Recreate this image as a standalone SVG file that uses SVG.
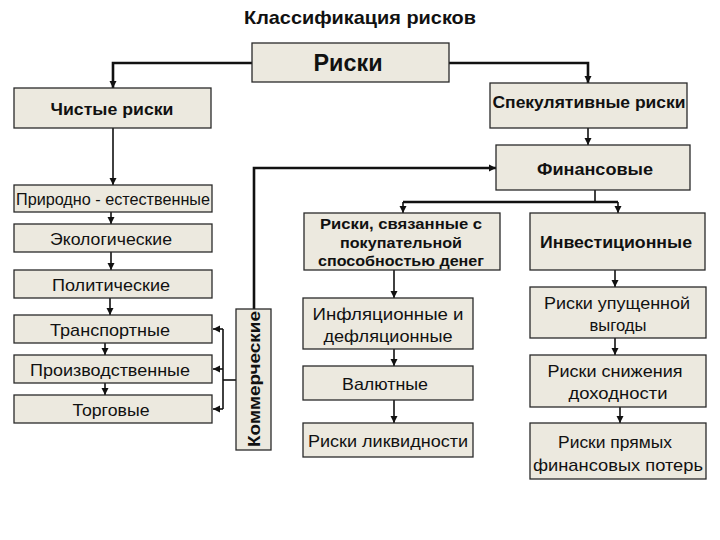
<svg xmlns="http://www.w3.org/2000/svg" width="720" height="540" viewBox="0 0 720 540">
<style>
.box{fill:#ece9df;stroke:#2a2a2a;stroke-width:1.3}
.t{font-family:"Liberation Sans",Arial,sans-serif;fill:#111;text-anchor:middle}
.b{font-weight:bold}
.c{fill:none;stroke:#111}
.thick{stroke-width:2.6}
.thin{stroke-width:1.6}
</style>
<defs>
<marker id="ah" markerUnits="userSpaceOnUse" markerWidth="8" markerHeight="8" refX="7" refY="4" orient="auto">
<path d="M0,0.5 L7,4 L0,7.5 z" fill="#111"/>
</marker>
</defs>
<rect width="720" height="540" fill="#fff"/>
<text class="t b" x="360" y="24" font-size="19" textLength="232" lengthAdjust="spacingAndGlyphs">Классификация рисков</text>

<g id="connectors">
<path class="c thick" d="M252,63 H113 V88" marker-end="url(#ah)"/>
<path class="c thick" d="M449,63 H588 V83" marker-end="url(#ah)"/>
<path class="c thin" d="M588,128 V145" marker-end="url(#ah)"/>
<path class="c thin" d="M113,128 V185" marker-end="url(#ah)"/>
<path class="c thin" d="M111,212 V224" marker-end="url(#ah)"/>
<path class="c thin" d="M111,252 V270" marker-end="url(#ah)"/>
<path class="c thin" d="M110,298 V315" marker-end="url(#ah)"/>
<path class="c thin" d="M105,343 V355" marker-end="url(#ah)"/>
<path class="c thin" d="M105,383 V395" marker-end="url(#ah)"/>
<path class="c thick" d="M254,309 V168 H496" marker-end="url(#ah)"/>
<path class="c thin" d="M236,380 H223"/>
<path class="c thin" d="M223,329 V409"/>
<path class="c thin" d="M223,329 H213" marker-end="url(#ah)"/>
<path class="c thin" d="M223,369 H213" marker-end="url(#ah)"/>
<path class="c thin" d="M223,409 H213" marker-end="url(#ah)"/>
<path class="c thin" d="M595,190 V202"/>
<path class="c thick" d="M403,202 H618"/>
<path class="c thin" d="M403,202 V213" marker-end="url(#ah)"/>
<path class="c thin" d="M618,202 V213" marker-end="url(#ah)"/>
<path class="c thin" d="M394,270 V298" marker-end="url(#ah)"/>
<path class="c thin" d="M394,349 V366" marker-end="url(#ah)"/>
<path class="c thin" d="M394,400 V423" marker-end="url(#ah)"/>
<path class="c thin" d="M615,270 V287" marker-end="url(#ah)"/>
<path class="c thin" d="M615,338 V355" marker-end="url(#ah)"/>
<path class="c thin" d="M620,407 V423" marker-end="url(#ah)"/>
</g>

<g id="riski"><rect class="box" x="252" y="43" width="197" height="39"/><text class="t b" x="348" y="71" font-size="23" textLength="69" lengthAdjust="spacingAndGlyphs">Риски</text></g>
<g id="chistye"><rect class="box" x="14" y="88" width="197" height="40"/><text class="t b" x="112" y="115" font-size="17" textLength="123" lengthAdjust="spacingAndGlyphs">Чистые риски</text></g>
<g id="spekul"><rect class="box" x="490" y="83" width="197" height="45"/><text class="t b" x="589" y="108" font-size="17" textLength="193" lengthAdjust="spacingAndGlyphs">Спекулятивные риски</text></g>
<g id="finans"><rect class="box" x="496" y="145" width="194" height="45"/><text class="t b" x="595" y="175" font-size="16" textLength="116" lengthAdjust="spacingAndGlyphs">Финансовые</text></g>

<g id="prirodno"><rect class="box" x="14" y="185" width="198" height="27"/><text class="t" x="113" y="205" font-size="16" textLength="194" lengthAdjust="spacingAndGlyphs">Природно - естественные</text></g>
<g id="ekolog"><rect class="box" x="14" y="224" width="198" height="28"/><text class="t" x="111" y="245" font-size="17" textLength="122" lengthAdjust="spacingAndGlyphs">Экологические</text></g>
<g id="polit"><rect class="box" x="14" y="270" width="198" height="28"/><text class="t" x="111" y="291" font-size="17" textLength="118" lengthAdjust="spacingAndGlyphs">Политические</text></g>
<g id="transp"><rect class="box" x="14" y="315" width="198" height="28"/><text class="t" x="110" y="336" font-size="17" textLength="120" lengthAdjust="spacingAndGlyphs">Транспортные</text></g>
<g id="proizv"><rect class="box" x="14" y="355" width="198" height="28"/><text class="t" x="110" y="376" font-size="17" textLength="160" lengthAdjust="spacingAndGlyphs">Производственные</text></g>
<g id="torg"><rect class="box" x="14" y="395" width="198" height="28"/><text class="t" x="111" y="416" font-size="17" textLength="77" lengthAdjust="spacingAndGlyphs">Торговые</text></g>
<g id="kommer"><rect class="box" x="236" y="309" width="35" height="141"/><text class="t b" transform="translate(260,379) rotate(-90)" x="0" y="0" font-size="16" textLength="136" lengthAdjust="spacingAndGlyphs">Коммерческие</text></g>

<g id="pokup"><rect class="box" x="304" y="213" width="196" height="57"/>
<text class="t b" font-size="14"><tspan x="401" y="229" textLength="162" lengthAdjust="spacingAndGlyphs">Риски, связанные  с</tspan><tspan x="401" y="248" textLength="122" lengthAdjust="spacingAndGlyphs">покупательной</tspan><tspan x="401" y="266" textLength="166" lengthAdjust="spacingAndGlyphs">способностью денег</tspan></text></g>
<g id="infl"><rect class="box" x="303" y="298" width="170" height="51"/>
<text class="t" font-size="17"><tspan x="388" y="320" textLength="151" lengthAdjust="spacingAndGlyphs">Инфляционные и</tspan><tspan x="388" y="342" textLength="129" lengthAdjust="spacingAndGlyphs">дефляционные</tspan></text></g>
<g id="valut"><rect class="box" x="303" y="366" width="170" height="34"/><text class="t" x="385" y="390" font-size="17" textLength="86" lengthAdjust="spacingAndGlyphs">Валютные</text></g>
<g id="likv"><rect class="box" x="303" y="423" width="170" height="34"/><text class="t" x="388" y="447" font-size="17" textLength="160" lengthAdjust="spacingAndGlyphs">Риски ликвидности</text></g>

<g id="invest"><rect class="box" x="530" y="213" width="175" height="57"/><text class="t b" x="616" y="248" font-size="16" textLength="152" lengthAdjust="spacingAndGlyphs">Инвестиционные</text></g>
<g id="upusch"><rect class="box" x="530" y="287" width="176" height="51"/>
<text class="t" font-size="17"><tspan x="617" y="309" textLength="146" lengthAdjust="spacingAndGlyphs">Риски упущенной</tspan><tspan x="618" y="331" textLength="57" lengthAdjust="spacingAndGlyphs">выгоды</tspan></text></g>
<g id="snizh"><rect class="box" x="530" y="355" width="176" height="52"/>
<text class="t" font-size="17"><tspan x="615" y="377" textLength="135" lengthAdjust="spacingAndGlyphs">Риски снижения</tspan><tspan x="618" y="399" textLength="99" lengthAdjust="spacingAndGlyphs">доходности</tspan></text></g>
<g id="pryam"><rect class="box" x="530" y="423" width="176" height="56"/>
<text class="t" font-size="17"><tspan x="615" y="448" textLength="114" lengthAdjust="spacingAndGlyphs">Риски прямых</tspan><tspan x="618" y="471" textLength="170" lengthAdjust="spacingAndGlyphs">финансовых потерь</tspan></text></g>
</svg>
